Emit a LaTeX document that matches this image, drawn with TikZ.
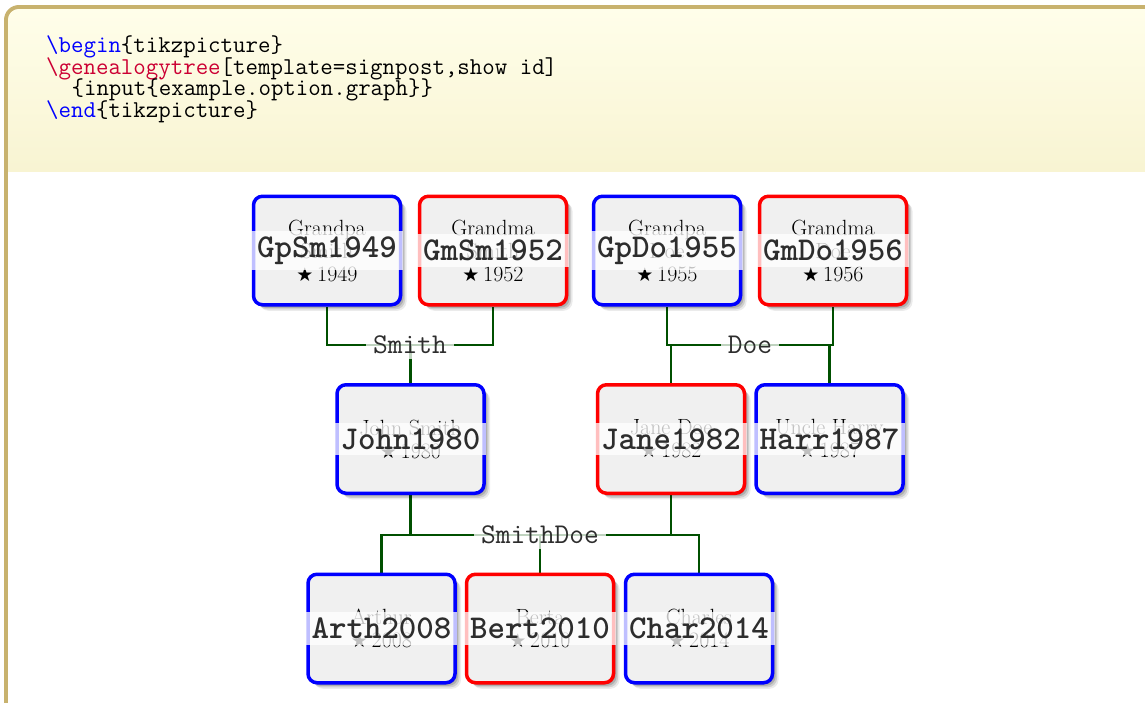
\documentclass[tikz,border=0pt]{standalone}
\usepackage{fontspec}
\newfontfamily\dejavu{DejaVu Sans}
\usetikzlibrary{shadows}
\pgfdeclarelayer{back}
\pgfdeclarelayer{edges}
\pgfsetlayers{back,edges,main}
\definecolor{framecol}{RGB}{200,178,110}
\definecolor{uppertop}{RGB}{255,254,234}
\definecolor{upperbot}{RGB}{248,244,210}
\definecolor{codeblue}{RGB}{0,0,255}
\definecolor{codered}{RGB}{204,0,51}
\definecolor{boxfill}{RGB}{240,240,240}
\definecolor{edgecol}{RGB}{0,80,0}
\definecolor{idtext}{RGB}{45,45,45}
\newcommand\gstar{{\dejavu\fontsize{19}{19}\selectfont ★}}
\tikzset{
  softshadow/.style={
    drop shadow={shadow xshift=1.5pt,shadow yshift=-1.5pt,opacity=.15,fill=black},
    drop shadow={shadow xshift=3pt,shadow yshift=-3pt,opacity=.15,fill=black},
    drop shadow={shadow xshift=4.5pt,shadow yshift=-4.5pt,opacity=.12,fill=black},
    drop shadow={shadow xshift=6pt,shadow yshift=-6pt,opacity=.08,fill=black}},
  person/.style={draw, line width=3.5, rounded corners=9, fill=boxfill,
    minimum width=147, minimum height=108.5, inner sep=0, align=center,
    font=\fontsize{22}{23}\selectfont, softshadow},
  male/.style={person, draw=blue},
  female/.style={person, draw=red},
  idband/.style={fill=white, fill opacity=.75, text opacity=1, text=idtext,
    inner sep=5.8, font=\fontsize{33.3}{33.3}\selectfont\ttfamily\bfseries},
  famlabel/.style={fill=white, fill opacity=.75, text opacity=1, text=idtext,
    inner xsep=7, inner ysep=5, font=\fontsize{28.6}{28.6}\selectfont\ttfamily},
  edge/.style={draw=edgecol, line width=2.5},
  code/.style={inner sep=0, anchor=base west, font=\fontsize{24.2}{21.6}\selectfont\ttfamily}
}
\begin{document}
\begin{tikzpicture}[x=1pt,y=-1pt]
\useasboundingbox (0,0) rectangle (1145,702);
\begin{pgfonlayer}{back}
  \fill[white] (0,0) rectangle (1145,702);
  \begin{scope}
    \clip (0,0) rectangle (1145,702);
    \fill[framecol, rounded corners=15] (4,5) rectangle (1300,900);
    \fill[white, rounded corners=11] (8,9) rectangle (1296,896);
    \begin{scope}
      \clip[rounded corners=11] (8,9) rectangle (1296,896);
      \shade[top color=uppertop, bottom color=upperbot] (8,9) rectangle (1296,171);
    \end{scope}
  \end{scope}
\end{pgfonlayer}

% code listing
\node[code] (c1) at (46,52.7) {{\color{codeblue}\textbackslash begin}\{tikzpicture\}};
\node[code] (c2) at (46,74.3) {{\color{codered}\textbackslash genealogytree}[template=signpost,show id]};
\node[code] (c3) at (71.4,95.9) {\{input\{example.option.graph\}\}};
\node[code] (c4) at (46,117.5) {{\color{codeblue}\textbackslash end}\{tikzpicture\}};

% persons
\node[male]   (GpSm) at (327,250.5) {Grandpa\\Smith\\\gstar\,1949};
\node[female] (GmSm) at (493,250.5) {Grandma\\Smith\\\gstar\,1952};
\node[male]   (GpDo) at (667,250.5) {Grandpa\\Doe\\\gstar\,1955};
\node[female] (GmDo) at (833,250.5) {Grandma\\Doe\\\gstar\,1956};
\node[male]   (John) at (410.5,439) {John Smith\\\gstar\,1980};
\node[female] (Jane) at (671,439) {Jane Doe\\\gstar\,1982};
\node[male]   (Harr) at (829.5,439) {Uncle Harry\\\gstar\,1987};
\node[male]   (Arth) at (381.5,628.5) {Arthur\\\gstar\,2008};
\node[female] (Bert) at (540,628.5) {Berta\\\gstar\,2010};
\node[male]   (Char) at (699,628.5) {Charles\\\gstar\,2014};

% id bands
\node[idband] (GpSm-id) at (GpSm) {GpSm1949};
\node[idband] (GmSm-id) at (GmSm) {GmSm1952};
\node[idband] (GpDo-id) at (GpDo) {GpDo1955};
\node[idband] (GmDo-id) at (GmDo) {GmDo1956};
\node[idband] (John-id) at (John) {John1980};
\node[idband] (Jane-id) at (Jane) {Jane1982};
\node[idband] (Harr-id) at (Harr) {Harr1987};
\node[idband] (Arth-id) at (Arth) {Arth2008};
\node[idband] (Bert-id) at (Bert) {Bert2010};
\node[idband] (Char-id) at (Char) {Char2014};

% family junctions
\coordinate (fSmith) at (410,345);
\coordinate (fDoe) at (750,345);
\coordinate (fSmithDoe) at (540,535);

\begin{pgfonlayer}{edges}
  \draw[edge] (GpSm.south) |- (fSmith) -| (GmSm.south);
  \draw[edge] (John.north) -- (John.north |- fSmith);
  \draw[edge] (GpDo.south) |- (fDoe) -| (GmDo.south);
  \draw[edge] (Jane.north) -- (Jane.north |- fDoe);
  \draw[edge] (Harr.north) -- (Harr.north |- fDoe);
  \draw[edge] (Arth.north) |- (fSmithDoe) -| (Char.north);
  \draw[edge] (Bert.north) -- (Bert.north |- fSmithDoe);
  \draw[edge] (John.south) -- (John.south |- fSmithDoe);
  \draw[edge] (Jane.south) -- (Jane.south |- fSmithDoe);
\end{pgfonlayer}

\node[famlabel] (Smith-l) at (fSmith) {Smith};
\node[famlabel] (Doe-l) at (fDoe) {Doe};
\node[famlabel] (SmithDoe-l) at (fSmithDoe) {SmithDoe};
\end{tikzpicture}
\end{document}
